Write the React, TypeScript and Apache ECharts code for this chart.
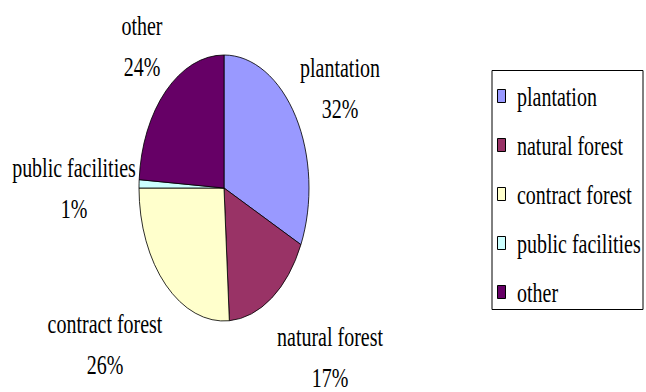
import React, { useEffect, useRef } from "react";
import * as echarts from "echarts";

// ---- data ----
const CATEGORIES = ["plantation", "natural forest", "contract forest", "public facilities", "other"];
const VALUES = [32, 17, 26, 1, 24];
const COLORS = ["#9999FF", "#993366", "#FFFFCC", "#CCFFFF", "#660066"];

// ---- layout ----
const W = 646;
const H = 392;
const PIE_CX = 224;
const PIE_CY = 188;
const PIE_R = 133;
const PIE_SX = 0.639; // horizontal squeeze of the original picture
const TEXT_SX = 0.714;
const FONT = "Liberation Serif";
const FONT_SIZE = 28;
const LINE_GAP = 41;
// label block centres relative to the pie centre
const LABEL_OFFSETS: [number, number][] = [
  [116, -100],
  [106, 169],
  [-119, 156],
  [-150, 0],
  [-82, -142],
];
const LEGEND_BOX = { x: 492, y: 70.5, w: 151, h: 239 };
const LEGEND_ROW0 = 96;
const LEGEND_STEP = 49;

const textStyle = (text: string, align: string) => ({
  text,
  x: 0,
  y: 0,
  fill: "#000",
  fontFamily: FONT,
  fontSize: FONT_SIZE,
  lineHeight: 24,
  align,
  verticalAlign: "middle",
});

export default function App() {
  const ref = useRef<HTMLDivElement>(null);

  useEffect(() => {
    if (!ref.current) return;
    const chart = echarts.init(ref.current, null, { renderer: "svg" });
    const total = VALUES.reduce((a, b) => a + b, 0);

    const legendChildren: any[] = [
      {
        type: "rect",
        shape: { x: LEGEND_BOX.x, y: LEGEND_BOX.y, width: LEGEND_BOX.w, height: LEGEND_BOX.h },
        style: { fill: "#fff", stroke: "#000", lineWidth: 1 },
      },
    ];
    CATEGORIES.forEach((name, i) => {
      const cy = Math.round(LEGEND_ROW0 + i * LEGEND_STEP);
      legendChildren.push({
        type: "rect",
        shape: { x: LEGEND_BOX.x + 5.5, y: cy - 6.5, width: 8, height: 13 },
        style: { fill: COLORS[i], stroke: "#000", lineWidth: 1 },
      });
      legendChildren.push({
        type: "text",
        x: LEGEND_BOX.x + 25,
        y: cy,
        scaleX: TEXT_SX,
        style: textStyle(name, "left"),
      });
    });

    const option: any = {
      animation: false,
      backgroundColor: "#fff",
      graphic: [{ type: "group", children: legendChildren }],
      series: [
        {
          type: "custom",
          coordinateSystem: "none",
          data: VALUES.map((v, i) => ({ name: CATEGORIES[i], value: [i, v] })),
          renderItem: (params: any, api: any) => {
            const i = params.dataIndex;
            const v = api.value(1);
            let before = 0;
            for (let k = 0; k < i; k++) before += VALUES[k];
            const start = -Math.PI / 2 + (before / total) * Math.PI * 2;
            const end = start + (v / total) * Math.PI * 2;
            const [ox, oy] = LABEL_OFFSETS[i];
            const lx = PIE_CX + ox;
            const ly = PIE_CY + oy;
            const pct = Math.round((v / total) * 100) + "%";
            return {
              type: "group",
              children: [
                {
                  type: "sector",
                  x: PIE_CX,
                  y: PIE_CY,
                  scaleX: PIE_SX,
                  shape: { cx: 0, cy: 0, r0: 0, r: PIE_R, startAngle: start, endAngle: end, clockwise: true },
                  style: { fill: COLORS[i], stroke: "#000", lineWidth: 1, strokeNoScale: true },
                },
                {
                  type: "text",
                  x: lx,
                  y: ly - LINE_GAP / 2,
                  scaleX: TEXT_SX,
                  style: textStyle(CATEGORIES[i], "center"),
                },
                {
                  type: "text",
                  x: lx,
                  y: ly + LINE_GAP / 2,
                  scaleX: TEXT_SX,
                  style: textStyle(pct, "center"),
                },
              ],
            };
          },
        },
      ],
    };
    chart.setOption(option);
    return () => chart.dispose();
  }, []);

  return (
    <div
      ref={ref}
      style={{ position: "fixed", left: 0, top: 0, width: W, height: H, background: "#fff" }}
    />
  );
}
